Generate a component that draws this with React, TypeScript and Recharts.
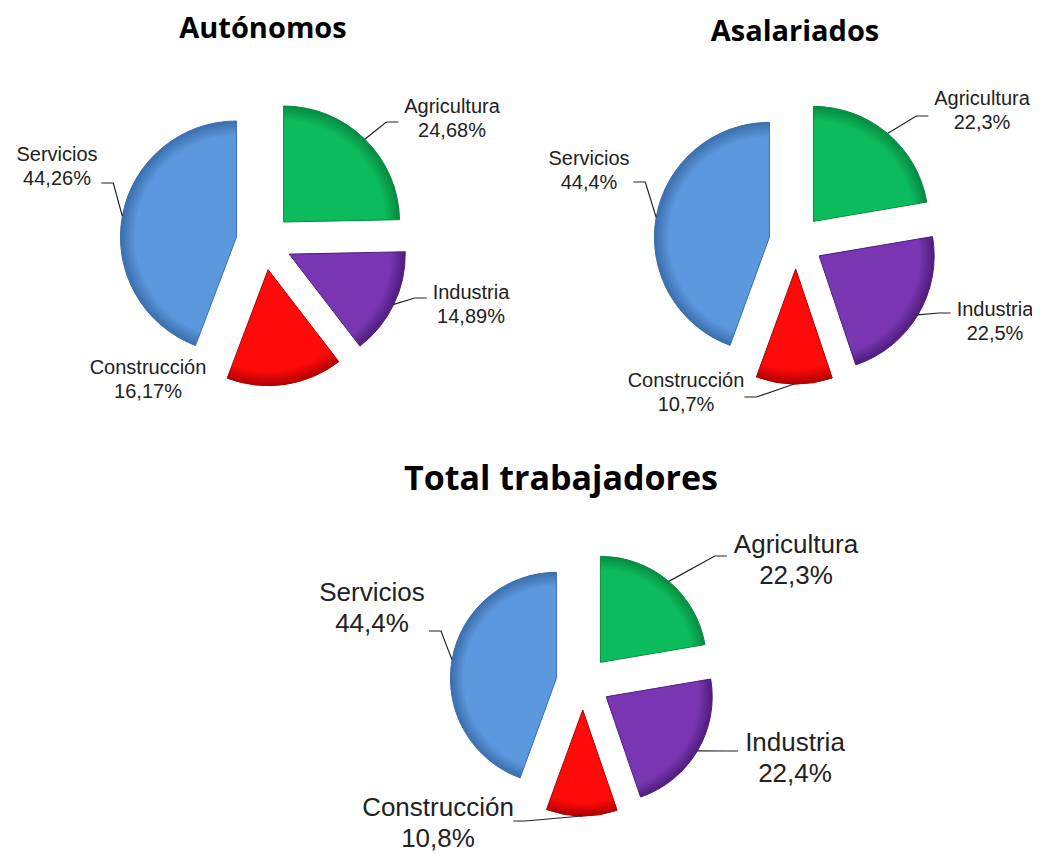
import { PieChart, Pie, Cell, Sector } from 'recharts'

// sector shares, clockwise from 12 o'clock
const CATEGORIES = ['Agricultura', 'Industria', 'Construcción', 'Servicios']
const AUTONOMOS = [24.68, 14.89, 16.17, 44.26]
const ASALARIADOS = [22.3, 22.5, 10.7, 44.4]
const TOTAL = [22.3, 22.4, 10.8, 44.4]

const COLORS = ['#0cbc5c', '#7a36b2', '#ff0a0a', '#5b98dd']
const DARK = ['#078a42', '#4e1d7c', '#b00000', '#3a6eac']

const RAD = Math.PI / 180

type LabelPos = { dx: number; dy: number; ly: number; line: boolean }

interface PieCfg {
  id: string
  title: string
  values: number[]
  cx: number
  cy: number
  r: number
  explode: number
  font: number
  lineGap: number
  titleX: number
  titleY: number
  titleSize: number
  labels: LabelPos[]
}

const PIES: PieCfg[] = [
  {
    id: 'aut', title: 'Autónomos', values: AUTONOMOS,
    cx: 256, cy: 234, r: 116, explode: 28, font: 20, lineGap: 24,
    titleX: 255, titleY: 19, titleSize: 29,
    labels: [
      { dx: 188, dy: -124, ly: 4, line: true },
      { dx: 207, dy: 62, ly: -6, line: true },
      { dx: -116, dy: 137, ly: 0, line: false },
      { dx: -207, dy: -76, ly: 17, line: true },
    ],
  },
  {
    id: 'asa', title: 'Asalariados', values: ASALARIADOS,
    cx: 788, cy: 234, r: 115, explode: 27, font: 20, lineGap: 24,
    titleX: 787, titleY: 22, titleSize: 29,
    labels: [
      { dx: 186, dy: -132, ly: 6, line: true },
      { dx: 199, dy: 79, ly: -8, line: true },
      { dx: -110, dy: 150, ly: 5, line: true },
      { dx: -207, dy: -72, ly: 12, line: true },
    ],
  },
  {
    id: 'tot', title: 'Total trabajadores', values: TOTAL,
    cx: 575, cy: 675, r: 106, explode: 27, font: 26, lineGap: 31,
    titleX: 553, titleY: 469, titleSize: 34,
    labels: [
      { dx: 213, dy: -124, ly: -3, line: true },
      { dx: 212, dy: 74, ly: -6, line: true },
      { dx: -145, dy: 139, ly: -1, line: true },
      { dx: -211, dy: -76, ly: 24, line: true },
    ],
  },
]

const fmt = (v: number) => `${String(v).replace('.', ',')}%`

function makeShape(cfg: PieCfg) {
  return (props: any) => {
    const { cx, cy, midAngle, outerRadius, startAngle, endAngle, name } = props
    const i = CATEGORIES.indexOf(name)
    const ex = cx + cfg.explode * Math.cos(-midAngle * RAD)
    const ey = cy + cfg.explode * Math.sin(-midAngle * RAD)
    const gid = `${cfg.id}-grad-${i}`
    return (
      <g>
        <defs>
          <radialGradient id={gid} gradientUnits="userSpaceOnUse" cx={ex} cy={ey} r={outerRadius}>
            <stop offset="0" stopColor={COLORS[i]} />
            <stop offset="0.87" stopColor={COLORS[i]} />
            <stop offset="1" stopColor={DARK[i]} />
          </radialGradient>
        </defs>
        <Sector
          cx={ex}
          cy={ey}
          innerRadius={0}
          outerRadius={outerRadius}
          startAngle={startAngle}
          endAngle={endAngle}
          fill={`url(#${gid})`}
          stroke={DARK[i]}
          strokeWidth={1}
        />
      </g>
    )
  }
}

function makeLabel(cfg: PieCfg) {
  return (props: any) => {
    const { cx, cy, midAngle, outerRadius, name, value } = props
    const i = CATEGORIES.indexOf(name)
    const pos = cfg.labels[i]
    const cos = Math.cos(-midAngle * RAD)
    const sin = Math.sin(-midAngle * RAD)
    const px = cx + (cfg.explode + outerRadius) * cos
    const py = cy + (cfg.explode + outerRadius) * sin
    const tx = cx + pos.dx
    const ty = cy + pos.dy
    const half = name.length * cfg.font * 0.235
    const side = px > tx ? 1 : -1
    const edge = tx + side * (half + 2)
    const yl = ty + pos.ly
    return (
      <g>
        {pos.line && (
          <polyline
            points={`${px},${py} ${edge + side * 12},${yl} ${edge},${yl}`}
            fill="none"
            stroke="#222"
            strokeWidth={1.2}
          />
        )}
        <text
          x={tx}
          y={ty}
          textAnchor="middle"
          fontFamily="'Liberation Sans', Arial, sans-serif"
          fontSize={cfg.font}
          fill="#222"
        >
          <tspan x={tx} dy={-cfg.lineGap / 2 + cfg.font * 0.35}>{name}</tspan>
          <tspan x={tx} dy={cfg.lineGap}>{fmt(value)}</tspan>
        </text>
      </g>
    )
  }
}

export default function App() {
  return (
    <div style={{ position: 'relative', width: 1024, height: 846, background: '#fff' }}>
      {PIES.map((p) => (
        <div
          key={p.id}
          style={{
            position: 'absolute',
            left: p.titleX - 250,
            width: 500,
            top: p.titleY - 20,
            height: 40,
            lineHeight: '40px',
            textAlign: 'center',
            fontFamily: '"Open Sans", Lato, sans-serif',
            fontWeight: 700,
            fontSize: p.titleSize,
            color: '#000',
          }}
        >
          {p.title}
        </div>
      ))}
      <div style={{ position: 'absolute', left: 0, top: 0 }}>
        <PieChart width={1024} height={846} margin={{ top: 0, right: 0, bottom: 0, left: 0 }}>
          {PIES.map((p) => {
            const shape = makeShape(p)
            const extra: any = { shape, activeShape: shape, inactiveShape: shape }
            return (
              <Pie
                key={p.id}
                data={CATEGORIES.map((name, i) => ({ name, value: p.values[i] }))}
                dataKey="value"
                nameKey="name"
                cx={p.cx}
                cy={p.cy}
                outerRadius={p.r}
                startAngle={90}
                endAngle={-270}
                isAnimationActive={false}
                label={makeLabel(p)}
                labelLine={false}
                {...extra}
              >
                {CATEGORIES.map((name, i) => (
                  <Cell key={name} fill={COLORS[i]} />
                ))}
              </Pie>
            )
          })}
        </PieChart>
      </div>
    </div>
  )
}
